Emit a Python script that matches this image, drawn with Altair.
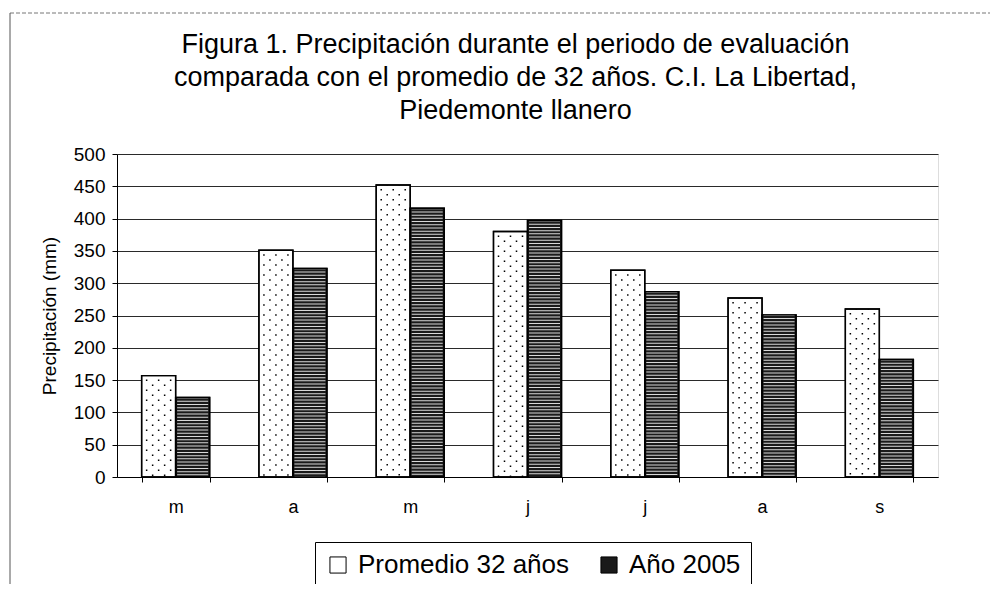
import altair as alt
import pandas as pd

months = ["mar", "abr", "may", "jun", "jul", "ago", "sep"]
series = ["Promedio 32 años", "Año 2005"]
promedio = [157, 351, 452, 380, 320, 277, 260]
anio_2005 = [123, 323, 416, 397, 287, 251, 182]
y_ticks = [0, 50, 100, 150, 200, 250, 300, 350, 400, 450, 500]
title_lines = [
    "Figura 1. Precipitación durante el periodo de evaluación",
    "comparada con el promedio de 32 años. C.I. La Libertad,",
    "Piedemonte llanero",
]

rows = []
for m, p, a in zip(months, promedio, anio_2005):
    rows.append({"mes": m, "serie": series[0], "valor": p})
    rows.append({"mes": m, "serie": series[1], "valor": a})
df = pd.DataFrame(rows)

FONT = "Liberation Sans"
BAR_HALF = 17  # half of a bar's width in px (style only)

x_enc = alt.X(
    "mes:N",
    sort=months,
    scale=alt.Scale(domain=months, paddingInner=0.42, paddingOuter=0.21),
    axis=alt.Axis(
        title=None,
        labelExpr="substring(datum.label, 0, 1)",
        labelAngle=0,
        labelFontSize=18,
        labelFont=FONT,
        labelColor="black",
        labelPadding=16,
        tickBand="extent",
        tickSize=5,
        tickColor="black",
        domainColor="black",
        grid=False,
    ),
)
xo_enc = alt.XOffset(
    "serie:N", sort=series,
    scale=alt.Scale(domain=series, paddingInner=0, paddingOuter=0),
)
y_enc = alt.Y(
    "valor:Q",
    scale=alt.Scale(domain=[0, 500], nice=False),
    axis=alt.Axis(
        values=y_ticks,
        labelOverlap=False,
        title="Precipitación (mm)",
        titleFontSize=19,
        titleFont=FONT,
        titleFontWeight="normal",
        titleColor="black",
        titlePadding=14,
        labelFontSize=19,
        labelFont=FONT,
        labelColor="black",
        labelPadding=7,
        tickSize=5,
        tickColor="black",
        domainColor="black",
        grid=True,
        gridColor="#2a2a2a",
        gridWidth=1,
    ),
)

base = alt.Chart(df)

bars = base.mark_bar(stroke="black", strokeWidth=1.4).encode(
    x=x_enc,
    xOffset=xo_enc,
    y=y_enc,
    color=alt.Color(
        "serie:N",
        sort=series,
        scale=alt.Scale(domain=series, range=["#ffffff", "#1a1a1a"]),
        legend=alt.Legend(
            title=None,
            orient="none",
            legendX=198,
            legendY=388,
            direction="horizontal",
            strokeColor="black",
            padding=10,
            labelFontSize=26,
            labelFont=FONT,
            labelColor="black",
            labelOffset=7,
            labelLimit=0,
            symbolType="square",
            symbolSize=260,
            symbolStrokeColor="black",
            symbolStrokeWidth=1,
            columnPadding=26,
        ),
    ),
)

stripes = base.transform_filter(alt.datum.serie == series[1]).mark_rule(
    color="#d8d8d8", strokeWidth=31, strokeDash=[1, 2.2], strokeCap="butt",
    xOffset=BAR_HALF,
).encode(
    x=x_enc,
    y=y_enc, y2=alt.datum(0),
)

dot_layers = []
for i, dx in enumerate([-12, -6, 0, 6, 12]):
    dot_layers.append(
        base.transform_filter(alt.datum.serie == series[0]).mark_rule(
            color="black", strokeWidth=1.5, strokeDash=[1.5, 8.5],
            strokeDashOffset=-4 - (5 if i % 2 else 0), strokeCap="butt",
            xOffset=dx - BAR_HALF,
        ).encode(
            x=x_enc,
            y=y_enc, y2=alt.datum(0),
        )
    )

outline = base.mark_bar(stroke="black", strokeWidth=1.4, fillOpacity=0).encode(
    x=x_enc, xOffset=xo_enc, y=y_enc,
)

frame_top = alt.Chart(pd.DataFrame({"k": [0]})).mark_rule(
    color="#777", strokeWidth=1, strokeDash=[4, 2]
).encode(x=alt.value(-107), x2=alt.value(875), y=alt.value(-141))
frame_left = alt.Chart(pd.DataFrame({"k": [0]})).mark_rule(
    color="#555", strokeWidth=1
).encode(x=alt.value(-107), y=alt.value(-141), y2=alt.value(440))

chart = alt.layer(bars, stripes, *dot_layers, outline, frame_top, frame_left).properties(
    width=821,
    height=323,
    autosize=alt.AutoSizeParams(type="none"),
    padding={"left": 109, "top": 146, "right": 52, "bottom": 107},
    title=alt.TitleParams(
        title_lines,
        fontSize=27,
        font=FONT,
        fontWeight="normal",
        color="black",
        lineHeight=33,
        anchor="middle",
        frame="group",
        dx=-12,
        dy=112,
        offset=0,
    ),
).configure_view(
    stroke="#666", strokeDash=[2, 1.5], strokeWidth=1
).configure_axisY(
    labelFontSize=19, titleFontSize=19, labelFont=FONT, titleFont=FONT
).configure_axisX(
    labelFontSize=18, labelFont=FONT
).configure(background="white")

chart.save("out.html", embed_options={"renderer": "svg", "actions": False})
